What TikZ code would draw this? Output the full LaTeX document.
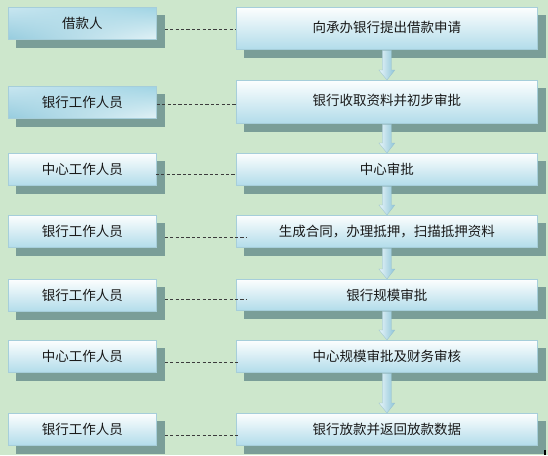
\documentclass[tikz,border=0pt]{standalone}
\usepackage{fontspec}
\setmainfont{Noto Sans CJK SC}
\usetikzlibrary{calc,backgrounds,shadings}
\definecolor{bgc}{RGB}{205,231,204}
\definecolor{shadowc}{RGB}{122,158,152}
\definecolor{boxline}{RGB}{166,206,218}
\definecolor{boxtop}{RGB}{252,254,254}
\definecolor{boxbot}{RGB}{178,220,234}
\definecolor{dashc}{RGB}{60,60,60}
\definecolor{arrL}{RGB}{232,245,249}
\definecolor{arrR}{RGB}{140,196,216}
\definecolor{arrE}{RGB}{150,190,205}
\begin{document}
\begin{tikzpicture}[x=1pt,y=-1pt,
  box/.style={draw=boxline, line width=0.8pt, top color=boxtop, bottom color=boxbot,
    inner sep=0pt, anchor=north west, text=black!90,
    font=\fontsize{13.5}{15}\selectfont},
  lbox/.style={box, minimum width=148pt, minimum height=32pt},
  lboxd/.style={lbox, upper left={rgb,255:red,200;green,230;blue,240},
    lower left={rgb,255:red,150;green,204;blue,222},
    upper right={rgb,255:red,160;green,212;blue,228},
    lower right={rgb,255:red,226;green,242;blue,246}},
  rbox/.style={box, minimum width=301pt, minimum height=32pt},
  dl/.style={draw=dashc, line width=0.8pt, dash pattern=on 3.2pt off 2.2pt},
  arr/.style={left color=arrL, right color=arrR, draw=arrE, line width=0.3pt}]
\useasboundingbox (0,0) rectangle (548,455);
% left boxes
\node[lboxd] (l1) at (8,7) {借款人};
\node[lboxd] (l2) at (8,86) {银行工作人员};
\node[lbox] (l3) at (8,153) {中心工作人员};
\node[lbox] (l4) at (8,215) {银行工作人员};
\node[lbox] (l5) at (8,279) {银行工作人员};
\node[lbox] (l6) at (8,340) {中心工作人员};
\node[lbox] (l7) at (8,413) {银行工作人员};
% right boxes
\node[rbox, minimum height=42pt] (r1) at (236,7) {\raisebox{4pt}{向承办银行提出借款申请}};
\node[rbox, minimum height=43pt] (r2) at (236,80) {\raisebox{4pt}{银行收取资料并初步审批}};
\node[rbox] (r3) at (236,153) {中心审批};
\node[rbox] (r4) at (236,215) {生成合同，办理抵押，扫描抵押资料};
\node[rbox, minimum height=31pt] (r5) at (236,279) {银行规模审批};
\node[rbox] (r6) at (236,340) {中心规模审批及财务审核};
\node[rbox] (r7) at (236,413) {银行放款并返回放款数据};
% background and shadows
\begin{scope}[on background layer]
  \fill[bgc] (0,0) rectangle (548,455);
  \foreach \n in {l1,l2,l3,l4,l5,l6,l7,r1,r2,r3,r4,r5,r6,r7}
    \fill[shadowc] ([shift={(8,8)}]\n.north west) rectangle ([shift={(8,8)}]\n.south east);
\end{scope}
% dashed connectors
\draw[dl] ([shift={(8,5.5)}]l1.east) coordinate (s1) -- (s1 -| r1.west);
\draw[dl] ([shift={(0,1.5)}]l2.east) coordinate (s2) -- (s2 -| r2.west);
\draw[dl] ([shift={(-1,5)}]l3.east) coordinate (s3) -- (s3 -| r3.west);
\draw[dl] ([shift={(8,6)}]l4.east) coordinate (s4) -- ([xshift=10pt]s4 -| r4.west);
\draw[dl] ([shift={(8,4)}]l5.east) coordinate (s5) -- ([xshift=10pt]s5 -| r5.west);
\draw[dl] ([shift={(8,6)}]l6.east) coordinate (s6) -- ([xshift=4pt]s6 -| r6.west);
\draw[dl] ([shift={(8,6)}]l7.east) coordinate (s7) -- ([xshift=4pt]s7 -| r7.west);
% flow arrows
\foreach \a/\b in {r1/r2,r2/r3,r3/r4,r4/r5,r5/r6,r6/r7}
  \shade[arr] ($(\a.south)+(-4.5,0.6)$) -- ($(\b.north)+(-4.5,-10)$)
    -- ($(\b.north)+(-8,-10)$) -- (\b.north) -- ($(\b.north)+(8,-10)$)
    -- ($(\b.north)+(4.5,-10)$) -- ($(\a.south)+(4.5,0.6)$) -- cycle;
% small mark at the lower right corner
\fill[black] (544,450) rectangle (546,455);
\end{tikzpicture}
\end{document}
